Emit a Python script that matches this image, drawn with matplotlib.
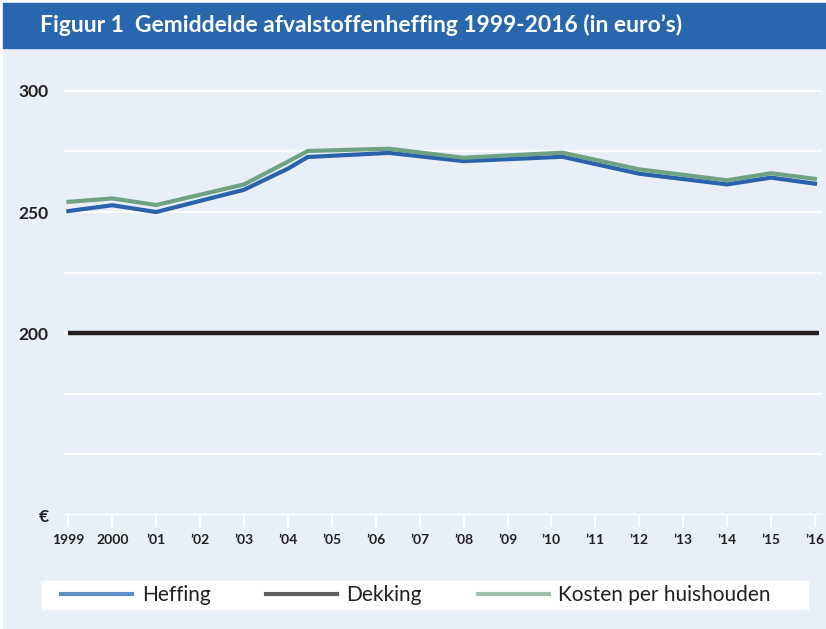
import matplotlib.pyplot as plt
from matplotlib.lines import Line2D
from matplotlib.patches import Rectangle

# 1. Data
years = [1999, 2000, 2001, 2003, 2004, 2004.45, 2006.3, 2008, 2010.25, 2012, 2014, 2015, 2016]
heffing = [250.4, 252.8, 250.0, 259.2, 267.9, 272.7, 274.4, 271.0, 272.8, 265.8, 261.4, 264.2, 261.7]
kosten = [254.2, 255.6, 252.9, 261.4, 270.8, 275.2, 276.1, 272.4, 274.5, 267.6, 263.1, 266.0, 263.7]
dekking_years = [1999, 2016.1]
dekking = [200, 200]

tick_years = list(range(1999, 2017))
tick_labels = ['1999', '2000'] + ['\u2019%02d' % (y % 100) for y in range(2001, 2017)]
y_ticks = [125, 150, 175, 200, 225, 250, 275, 300]
y_labels = ['\u20ac', '', '', '200', '', '250', '', '300']
series_names = ['Heffing', 'Dekking', 'Kosten per huishouden']

title = 'Figuur 1  Gemiddelde afvalstoffenheffing 1999-2016 (in euro\u2019s)'

# colours
bg = '#e8eff7'
bar_blue = '#2866ae'
blue = '#2a62ad'
green = '#6fa283'
black = '#231f20'
legend_colors = ['#5b8fc8', '#5d5d5d', '#9ebfa9']

plt.rcParams['font.family'] = ['Lato', 'DejaVu Sans']

W, H = 826, 629
fig = plt.figure(figsize=(W / 100, H / 100), dpi=100, facecolor='white')

# background + title bar (behind the axes)
fig.patches.append(Rectangle((3 / W, 0), 1, 1 - 3 / H, transform=fig.transFigure,
                             color=bg, zorder=-3))
fig.patches.append(Rectangle((3 / W, 1 - 48 / H), 1, 45 / H, transform=fig.transFigure,
                             color=bar_blue, zorder=-2))
fig.text(40 / W, 1 - 25 / H, title, color='white', fontsize=16.5, fontweight='bold',
         va='center', ha='left')

# 2. Main axes
ax = fig.add_axes([64 / W, 114 / H, (822 - 64) / W, (515 - 70) / H])
ax.set_facecolor('none')
ax.set_xlim(1998.9, 2016.16)
ax.set_ylim(125, 308.6)

ax.plot(dekking_years, dekking, color=black, linewidth=3.2, solid_capstyle='butt', zorder=3)
ax.plot(years, heffing, color=blue, linewidth=3, zorder=4)
ax.plot(years, kosten, color=green, linewidth=3, zorder=5)

ax.set_yticks(y_ticks)
ax.set_yticklabels(y_labels)
ax.set_xticks(tick_years)
ax.set_xticklabels(tick_labels)
ax.grid(True, axis='y', color='white', linewidth=1.6)
ax.set_axisbelow(True)
for s in ax.spines.values():
    s.set_visible(False)

ax.tick_params(axis='y', length=0, pad=11, labelsize=12.5, labelcolor=black)
ax.tick_params(axis='x', length=8.5, width=1.5, color='white', pad=5,
               labelsize=10, labelcolor=black)
for lbl in ax.get_xticklabels() + ax.get_yticklabels():
    lbl.set_fontweight('bold')

# 3. Legend in white box
fig.patches.append(Rectangle((42 / W, 1 - 609 / H), (808 - 42) / W, 28 / H,
                             transform=fig.transFigure, color='white', zorder=-1))
handles = [Line2D([], [], color=c, linewidth=3) for c in legend_colors]
fig.legend(handles, series_names, ncol=3, mode='expand', frameon=False,
           loc='center left', bbox_to_anchor=(51 / W, 1 - 595 / H, (781 - 51) / W, 0),
           fontsize=15, handlelength=3.4, handletextpad=0.45, borderpad=0,
           labelcolor=black)

plt.savefig('out.png', dpi=100, facecolor=fig.get_facecolor())
